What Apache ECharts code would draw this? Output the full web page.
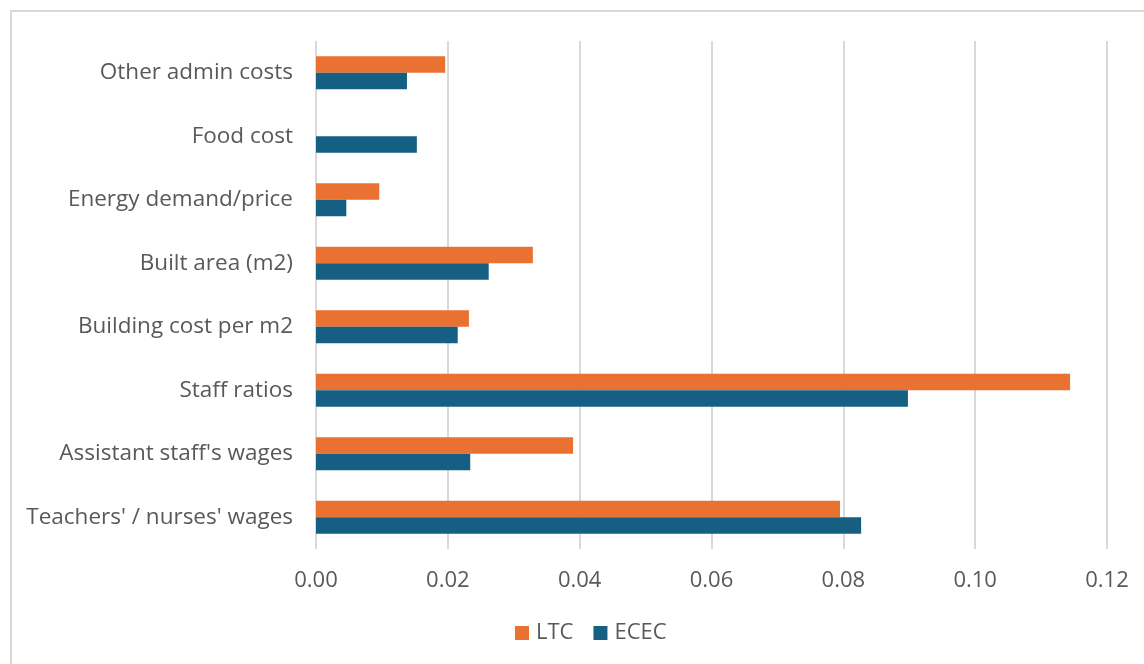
<!DOCTYPE html>
<html>
<head>
<meta charset="utf-8">
<script src="https://cdn.jsdelivr.net/npm/echarts@6/dist/echarts.min.js"></script>
<style>
    html, body { margin: 0; padding: 0; background: #fff; }
    #chart { width: 1144px; height: 664px; }
</style>
</head>
<body>
<div id="chart"></div>
<script>
// categories, bottom to top
var categories = [
    "Teachers' / nurses' wages",
    "Assistant staff's wages",
    "Staff ratios",
    "Building cost per m2",
    "Built area (m2)",
    "Energy demand/price",
    "Food cost",
    "Other admin costs"
];
var ltcValues = [0.0795, 0.0390, 0.1144, 0.0232, 0.0329, 0.0096, 0, 0.0196];
var ececValues = [0.0827, 0.0234, 0.0898, 0.0215, 0.0262, 0.0046, 0.0153, 0.0138];

var chart = echarts.init(document.getElementById('chart'));

var textColor = '#595959';
var fontName = '"Open Sans", sans-serif';

var option = {
    animation: false,
    // light frame round the chart area
    graphic: [{
        type: 'rect',
        shape: { x: 11, y: 11, width: 1300, height: 800 },
        style: { fill: 'none', stroke: '#d9d9d9', lineWidth: 2 },
        silent: true
    }],
    legend: {
        data: ['LTC', 'ECEC'],
        bottom: 15,
        left: 510,
        icon: 'rect',
        itemWidth: 14,
        itemHeight: 14,
        itemGap: 20,
        textStyle: { color: textColor, fontSize: 22, fontFamily: fontName, padding: [0, 0, 0, 2] }
    },
    grid: { left: 316, right: 37, top: 41, bottom: 115 },
    xAxis: {
        type: 'value',
        min: 0,
        max: 0.12,
        interval: 0.02,
        axisLine: { show: false },
        axisTick: { show: false },
        splitLine: { lineStyle: { color: '#d9d9d9', width: 2 } },
        axisLabel: {
            color: textColor,
            fontSize: 22,
            fontFamily: fontName,
            margin: 21,
            formatter: function (v) { return v.toFixed(2); }
        }
    },
    yAxis: {
        type: 'category',
        data: categories,
        axisLine: { show: false },
        axisTick: { show: false },
        axisLabel: {
            color: textColor,
            fontSize: 22.5,
            fontFamily: fontName,
            margin: 23
        }
    },
    series: [
        {
            name: 'LTC',
            type: 'bar',
            data: ltcValues,
            barGap: '0%',
            barCategoryGap: '48%',
            itemStyle: { color: '#E97132' }
        },
        {
            name: 'ECEC',
            type: 'bar',
            data: ececValues,
            itemStyle: { color: '#156082' }
        }
    ]
};

chart.setOption(option);
</script>
</body>
</html>
